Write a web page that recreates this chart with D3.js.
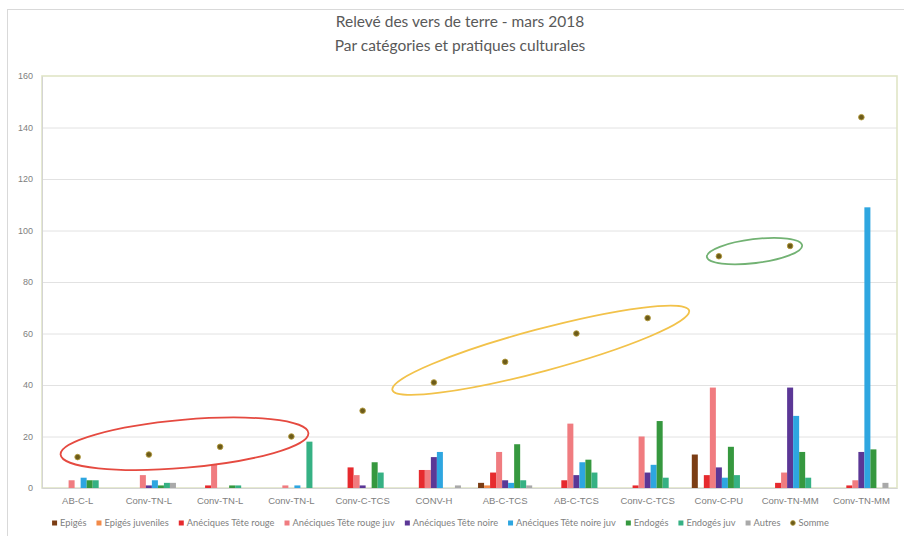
<!DOCTYPE html>
<html>
<head>
<meta charset="utf-8">
<script src="https://cdn.jsdelivr.net/npm/d3@7"></script>
<style>
  html, body { margin: 0; padding: 0; background: #ffffff; }
  svg { display: block; font-family: Lato, "Open Sans", sans-serif; }
</style>
</head>
<body>
<svg id="chart" width="904" height="536"></svg>
<script>
// Earthworm survey, March 2018 — counts per category and farming practice
const categories = ["AB-C-L", "Conv-TN-L", "Conv-TN-L", "Conv-TN-L", "Conv-C-TCS", "CONV-H",
                    "AB-C-TCS", "AB-C-TCS", "Conv-C-TCS", "Conv-C-PU", "Conv-TN-MM", "Conv-TN-MM"];

const epiges            = [0, 0, 0, 0, 0, 0, 2, 0, 0, 13, 0, 0];
const epigesJuveniles   = [0, 0, 0, 0, 0, 0, 1, 0, 0, 0, 0, 0];
const aneciquesRouge    = [0, 0, 1, 0, 8, 7, 6, 3, 1, 5, 2, 1];
const aneciquesRougeJuv = [3, 5, 9, 1, 5, 7, 14, 25, 20, 39, 6, 3];
const aneciquesNoire    = [0, 1, 0, 0, 1, 12, 3, 5, 6, 8, 39, 14];
const aneciquesNoireJuv = [4, 3, 0, 1, 0, 14, 2, 10, 9, 4, 28, 109];
const endoges           = [3, 1, 1, 0, 10, 0, 17, 11, 26, 16, 14, 15];
const endogesJuv        = [3, 2, 1, 18, 6, 0, 3, 6, 4, 5, 4, 0];
const autres            = [0, 2, 0, 0, 0, 1, 1, 0, 0, 0, 0, 2];
const somme             = [12, 13, 16, 20, 30, 41, 49, 60, 66, 90, 94, 144];

const yTicks = [0, 20, 40, 60, 80, 100, 120, 140, 160];

const barSeries = [
  { name: "Epigés",                   values: epiges,            color: "#7b3d14" },
  { name: "Epigés juveniles",         values: epigesJuveniles,   color: "#f28a48" },
  { name: "Anéciques Tête rouge",     values: aneciquesRouge,    color: "#e62a2e" },
  { name: "Anéciques Tête rouge juv", values: aneciquesRougeJuv, color: "#f07c80" },
  { name: "Anéciques Tête noire",     values: aneciquesNoire,    color: "#5b3796" },
  { name: "Anéciques Tête noire juv", values: aneciquesNoireJuv, color: "#2ea6e0" },
  { name: "Endogés",                  values: endoges,           color: "#36983f" },
  { name: "Endogés juv",              values: endogesJuv,        color: "#36b184" },
  { name: "Autres",                   values: autres,            color: "#a9a9a9" }
];
const sumSeries = { name: "Somme", values: somme, color: "#6c5b1b" };

// Hand-drawn highlight rings around groups of totals
const highlights = [
  { from: 0, to: 3,  pad: 17, ry: 24, angle: -5,  dy: -3, color: "#e54a40" },
  { from: 5, to: 8,  pad: 42, ry: 21, angle: -15, dy: 0,  color: "#f2c24a" },
  { from: 9, to: 10, pad: 12, ry: 12, angle: -7,  dy: 0,  color: "#72b273" }
];

const svg = d3.select("#chart");
const W = 904, H = 536;
const plot = { left: 42, right: 897, top: 76, bottom: 488 };

// Chart frame
svg.append("rect").attr("x", 7.5).attr("y", 9.5).attr("width", W).attr("height", H)
  .attr("fill", "#ffffff").attr("stroke", "#d9d9d9").attr("stroke-width", 1);

const x0 = d3.scaleBand().domain(d3.range(categories.length)).range([plot.left, plot.right]);
const bw = x0.bandwidth();
const x1 = d3.scaleBand().domain(barSeries.map(s => s.name)).range([bw * 0.12, bw * 0.88]);
const y = d3.scaleLinear().domain([0, 160]).range([plot.bottom, plot.top]);

// Gridlines
svg.append("g").selectAll("line").data(yTicks.filter(t => t > 0 && t < 160)).join("line")
  .attr("x1", plot.left).attr("x2", plot.right)
  .attr("y1", d => y(d) + 0.5).attr("y2", d => y(d) + 0.5)
  .attr("stroke", "#e2e2e2").attr("stroke-width", 1);

// Plot area border
svg.append("rect")
  .attr("x", plot.left).attr("y", plot.top)
  .attr("width", plot.right - plot.left).attr("height", plot.bottom - plot.top)
  .attr("fill", "none").attr("stroke", "#e0e5c6").attr("stroke-width", 1.6);

// Y axis
const yAxis = svg.append("g").attr("transform", `translate(${plot.left},0)`)
  .call(d3.axisLeft(y).tickValues(yTicks).tickSize(0).tickPadding(9));
yAxis.select(".domain").attr("stroke", "#d4d4d4");
yAxis.selectAll("text").attr("fill", "#808080").attr("font-size", 9);

// X axis
const xAxis = svg.append("g").attr("transform", `translate(0,${plot.bottom})`)
  .call(d3.axisBottom(x0).tickSize(0).tickPadding(9).tickFormat(i => categories[i]));
xAxis.select(".domain").attr("stroke", "#d4d4d4");
xAxis.selectAll("text").attr("fill", "#808080").attr("font-size", 9.5);

// Bars
const groups = svg.append("g").selectAll("g").data(categories.map((c, i) => i)).join("g")
  .attr("transform", i => `translate(${x0(i)},0)`);
groups.selectAll("rect")
  .data(i => barSeries.map(s => ({ name: s.name, color: s.color, value: s.values[i] })))
  .join("rect")
  .attr("x", d => x1(d.name))
  .attr("width", x1.bandwidth())
  .attr("y", d => y(d.value))
  .attr("height", d => y(0) - y(d.value))
  .attr("fill", d => d.color);

// Totals as markers only
const cx = i => x0(i) + bw / 2;
svg.append("g").selectAll("circle").data(somme.map((v, i) => ({ i, v }))).join("circle")
  .attr("cx", d => cx(d.i)).attr("cy", d => y(d.v)).attr("r", 2.8)
  .attr("fill", sumSeries.color).attr("stroke", "#b39b3c").attr("stroke-width", 0.9);

// Highlight rings
svg.append("g").selectAll("ellipse").data(highlights).join("ellipse")
  .each(function (h) {
    const ax = cx(h.from), ay = y(somme[h.from]);
    const bx = cx(h.to), by = y(somme[h.to]);
    const mx = (ax + bx) / 2, my = (ay + by) / 2 + h.dy;
    const half = Math.hypot(bx - ax, by - ay) / 2;
    d3.select(this)
      .attr("cx", 0).attr("cy", 0)
      .attr("rx", half + h.pad).attr("ry", h.ry)
      .attr("transform", `translate(${mx},${my}) rotate(${h.angle})`);
  })
  .attr("fill", "none").attr("stroke", h => h.color).attr("stroke-width", 1.8);

// Title
const title = svg.append("g").attr("text-anchor", "middle").attr("fill", "#595959").attr("font-size", 15.5);
title.append("text").attr("x", 460).attr("y", 27).text("Relevé des vers de terre - mars 2018");
title.append("text").attr("x", 460).attr("y", 51).text("Par catégories et pratiques culturales");

// Legend
const legendItems = barSeries.concat([sumSeries]);
const legend = svg.append("g").attr("font-size", 9.3).attr("fill", "#808080");
let cursor = 0;
const items = legend.selectAll("g").data(legendItems).join("g");
items.each(function (d) {
  const g = d3.select(this);
  if (d === sumSeries) {
    g.append("circle").attr("cx", 2.5).attr("cy", 0).attr("r", 2.4)
      .attr("fill", d.color).attr("stroke", "#b39b3c").attr("stroke-width", 0.8);
  } else {
    g.append("rect").attr("x", 0).attr("y", -2.5).attr("width", 5).attr("height", 5).attr("fill", d.color);
  }
  const t = g.append("text").attr("x", 8).attr("y", 0).attr("dy", "0.35em").text(d.name);
  const w = 8 + t.node().getComputedTextLength();
  g.attr("transform", `translate(${cursor},0)`);
  cursor += w + 10;
});
const legendWidth = cursor - 10;
legend.attr("transform", `translate(${440.5 - legendWidth / 2},523)`);
</script>
</body>
</html>
